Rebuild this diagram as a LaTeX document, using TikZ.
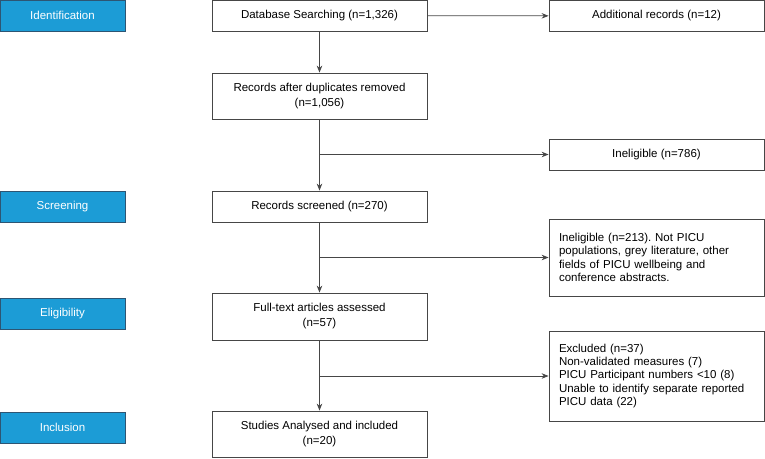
\documentclass[tikz,border=0pt]{standalone}
\usepackage{fontspec}
\setmainfont{Liberation Sans}
\usetikzlibrary{arrows.meta}
\frenchspacing

\definecolor{stageblue}{RGB}{28,156,214}
\definecolor{stageedge}{RGB}{45,85,115}
\definecolor{lineg}{RGB}{70,70,70}

\begin{document}
\begin{tikzpicture}[x=1pt, y=1pt, font=\fontsize{11.5}{15}\selectfont]
    \tikzstyle{stage}=[
        draw = stageedge,
        line width = 0.8pt,
        fill = stageblue,
        text = white,
        minimum width = 125pt,
        minimum height = 31pt,
        inner sep = 0pt
    ]
    \tikzstyle{box}=[
        draw = lineg,
        line width = 0.8pt,
        fill = white,
        minimum width = 215pt,
        inner sep = 0pt,
        align = center
    ]
    \tikzstyle{note}=[
        box,
        text width = 195pt,
        align = left,
        font = \fontsize{11.5}{13.4}\selectfont
    ]
    \tikzstyle{flow}=[
        draw = lineg,
        line width = 0.8pt,
        -{Stealth[length=7pt, width=5.5pt]}
    ]

    \useasboundingbox (0, 0) rectangle (765, -458);

    \node[stage] (ident) at (62.5, -15.5)  {Identification};
    \node[stage] (scren) at (62.5, -206.5) {Screening};
    \node[stage] (elig)  at (62.5, -313.5) {Eligibility};
    \node[stage] (incl)  at (62.5, -427.5) {Inclusion};

    \node[box, minimum height = 31pt] (db)   at (319.5, -15.5)  {Database Searching (n=1,326)};
    \node[box, minimum height = 46pt] (dup)  at (319.5, -96)    {Records after duplicates removed\\(n=1,056)};
    \node[box, minimum height = 31pt] (scr)  at (319.5, -206.5) {Records screened (n=270)};
    \node[box, minimum height = 47pt] (full) at (319.5, -316.5) {Full-text articles assessed\\(n=57)};
    \node[box, minimum height = 46pt] (stud) at (319.5, -434)   {Studies Analysed and included\\(n=20)};

    \node[box, minimum height = 31pt] (add)  at (656.5, -16)    {Additional records (n=12)};
    \node[box, minimum height = 31pt] (inl1) at (656.5, -154.5) {Ineligible (n=786)};
    \node[note, minimum height = 77pt] (inl2) at (656.5, -257.5) {Ineligible (n=213). Not PICU\\ populations, grey literature, other\\ fields of PICU wellbeing and\\ conference abstracts.};
    \node[note, minimum height = 90pt] (excl) at (656.5, -376)   {Excluded (n=37)\\ Non-validated measures (7)\\ PICU Participant numbers <10 (8)\\ Unable to identify separate reported\\ PICU data (22)};

    \path[flow] (db) -- (dup);
    \path[flow] (db) -- (add);
    \path[flow] (dup) -- (scr);
    \path[flow] (dup.south |- inl1.west) -- (inl1.west);
    \path[flow] (scr) -- (full);
    \path[flow] (scr.south |- inl2.west) -- (inl2.west);
    \path[flow] (full) -- (stud);
    \path[flow] (full.south |- excl.west) -- (excl.west);

\end{tikzpicture}
\end{document}
